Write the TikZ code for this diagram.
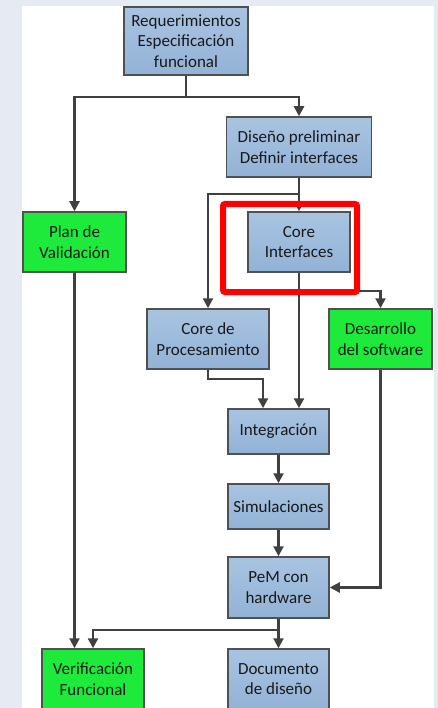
\documentclass[tikz,border=0pt]{standalone}
\usepackage{fontspec}
\setmainfont{Carlito}
\usetikzlibrary{arrows.meta}

\definecolor{boxblue}{RGB}{168,196,225}
\definecolor{boxbluedk}{RGB}{146,178,214}
\definecolor{boxgreen}{RGB}{30,234,60}
\definecolor{edgegray}{RGB}{80,80,80}
\definecolor{linegray}{RGB}{64,64,64}
\definecolor{paper}{RGB}{230,234,242}

\tikzset{
  block/.style={draw=edgegray, line width=1.5pt, align=center, inner sep=0pt,
    font=\fontsize{17}{20.5}\selectfont, text=black!90},
  bluebox/.style={block, top color=boxblue, bottom color=boxbluedk},
  greenbox/.style={block, fill=boxgreen},
  flow/.style={draw=linegray, line width=2.2pt, -{Triangle[length=10pt,width=10pt]}}
}

\begin{document}
\begin{tikzpicture}[x=1pt, y=-1pt]
	\useasboundingbox (0,0) rectangle (438,708);
	\fill[paper] (0,0) rectangle (438,708);
	\fill[white] (22,6) rectangle (434,708);
	
	%% top of the flow
	\node[bluebox, minimum width=124pt, minimum height=68pt] (req) at (186,41) {Requerimientos\\Especificación\\funcional};
	\node[bluebox, minimum width=145pt, minimum height=60pt] (dis) at (299,147) {Diseño preliminar\\Definir interfaces};
	\node[greenbox, minimum width=103pt, minimum height=60pt] (plan) at (74.5,242) {Plan de\\Validación};
	\node[bluebox, minimum width=102pt, minimum height=60pt] (core) at (299,242) {Core\\Interfaces};
	
	%% second row
	\node[bluebox, minimum width=122pt, minimum height=60pt] (proc) at (208,339) {Core de\\Procesamiento};
	\node[greenbox, minimum width=103pt, minimum height=60pt] (soft) at (380.5,339) {Desarrollo\\del software};
	
	%% main column
	\node[bluebox, minimum width=101pt, minimum height=45pt] (integ) at (278.5,431.5) {Integración};
	\node[bluebox, minimum width=101pt, minimum height=45pt] (sim) at (278.5,506.5) {Simulaciones};
	\node[bluebox, minimum width=101pt, minimum height=61pt] (pem) at (278.5,587.5) {PeM con\\hardware};
	
	%% bottom row
	\node[greenbox, minimum width=102pt, minimum height=60pt] (verif) at (93,679) {Verificación\\Funcional};
	\node[bluebox, minimum width=101pt, minimum height=60pt] (doc) at (278.5,679) {Documento\\de diseño};
	
	%% connectors
	\draw[flow] (req.south) -- ++(0,21) -| (dis.north);
	\draw[flow] (req.south) -- ++(0,21) -| (plan.north);
	
	\draw[flow] (dis.south) -- (core.north);
	\draw[flow] (dis.south) -- ++(0,16) -| (proc.north);
	
	\draw[flow] (core.south) -- (core.south |- integ.north);
	\draw[flow] (core.south) ++(0,18) -| (soft.north);
	
	\draw[flow] (proc.south) -- ++(0,9) -| ([xshift=-15.5pt]integ.north);
	\draw[flow] (soft.south) |- (pem.east);
	
	\draw[flow] (integ) -- (sim);
	\draw[flow] (sim) -- (pem);
	
	\draw[flow] (pem.south) -- ++(0,11) -| (verif.north);
	\draw[flow] (pem) -- (doc);
	\draw[flow] ([xshift=-18.5pt]verif.north |- plan.south) -- ([xshift=-18.5pt]verif.north);
	
	%% highlight
	\node[draw=red, line width=6pt, rounded corners=2pt, minimum width=134pt, minimum height=88pt, inner sep=0pt] (focus) at (290,248) {};
	
\end{tikzpicture}
\end{document}
